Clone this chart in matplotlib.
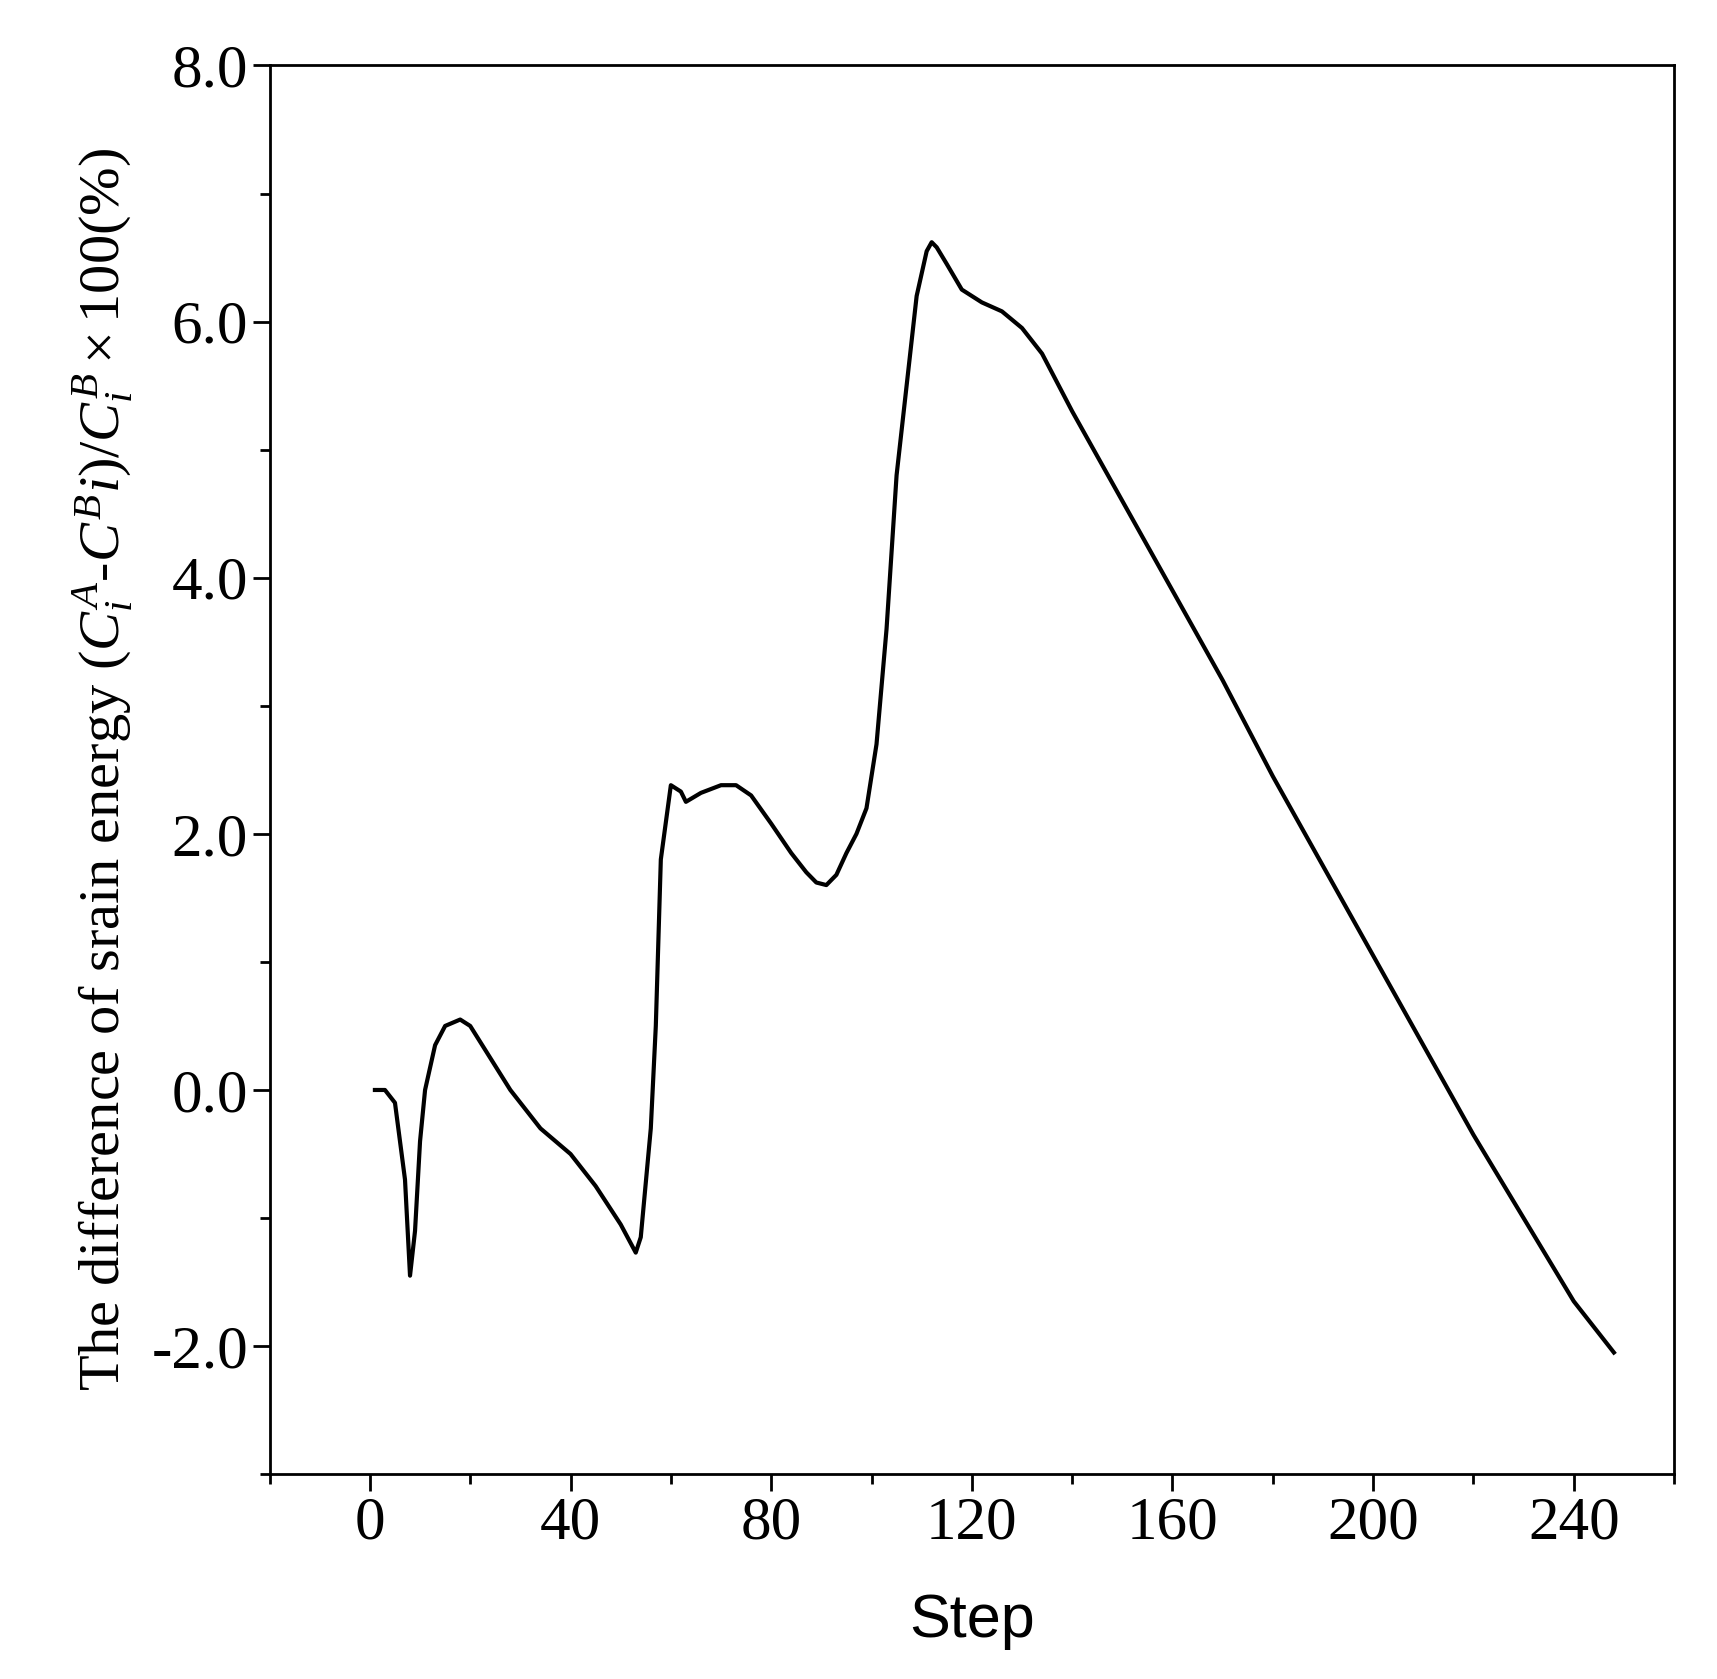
import matplotlib
matplotlib.use('Agg')
import matplotlib.pyplot as plt
from matplotlib.ticker import MultipleLocator

steps = [1, 3, 5, 7, 8, 9, 10, 11, 13, 15, 18, 20, 24, 28, 34, 40, 45, 50, 53, 54, 56, 57, 58,
         60, 62, 63, 66, 70, 73, 76, 80, 84, 87, 89, 91, 93, 95, 97, 99, 101, 103, 105, 107,
         109, 111, 112, 113, 115, 118, 122, 126, 130, 134, 138, 140, 145, 150, 160, 170, 180, 190,
         200, 210, 220, 230, 240, 248]
diff = [0, 0, -0.1, -0.7, -1.45, -1.1, -0.4, 0, 0.35, 0.5, 0.55, 0.5, 0.25, 0, -0.3, -0.5,
        -0.75, -1.05, -1.27, -1.15, -0.3, 0.5, 1.8, 2.38, 2.33, 2.25, 2.32, 2.38, 2.38, 2.3,
        2.08, 1.85, 1.7, 1.62, 1.6, 1.68, 1.85, 2.0, 2.2, 2.7, 3.6, 4.8, 5.5, 6.2, 6.55, 6.62,
        6.58, 6.45, 6.25, 6.15, 6.08, 5.95, 5.75, 5.45, 5.3, 4.95, 4.6, 3.9, 3.2, 2.45, 1.75,
        1.05, 0.35, -0.35, -1.0, -1.65, -2.05]

plt.rcParams['mathtext.fontset'] = 'custom'
plt.rcParams['mathtext.rm'] = 'Liberation Serif'
plt.rcParams['mathtext.it'] = 'Liberation Serif:italic'

fig = plt.figure(figsize=(17.17, 16.79), dpi=100)
ax = fig.add_axes([0.157, 0.122, 0.818, 0.839])
ax.plot(steps, diff, color='black', lw=3)
ax.set_xlim(-20, 260)
ax.set_ylim(-3, 8)
ax.xaxis.set_major_locator(MultipleLocator(40))
ax.xaxis.set_minor_locator(MultipleLocator(20))
ax.yaxis.set_major_locator(MultipleLocator(2))
ax.yaxis.set_minor_locator(MultipleLocator(1))
ax.yaxis.set_major_formatter(lambda v, p: f'{v:.1f}')
ax.tick_params(which='both', direction='out', top=False, right=False, width=2)
ax.tick_params(which='major', length=12, labelsize=44)
ax.tick_params(which='minor', length=7)
for lab in ax.get_xticklabels() + ax.get_yticklabels():
    lab.set_fontfamily('Liberation Serif')
for s in ax.spines.values():
    s.set_linewidth(2)
ax.set_xlabel('Step', fontsize=44, family='Liberation Sans', labelpad=30)
ax.set_ylabel(r'The difference of srain energy $(C_i^A$-$C^Bi)/C_i^B\times100(\%)$',
              fontsize=42, family='Liberation Serif', labelpad=12)
fig.savefig('out.png')
